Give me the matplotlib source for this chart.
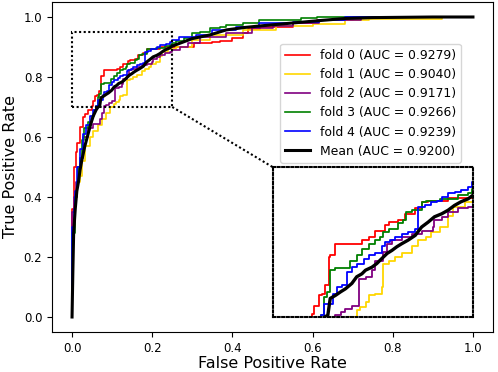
import matplotlib
matplotlib.use("Agg")
import matplotlib.pyplot as plt
from matplotlib.patches import Rectangle

# ---- data ----
fpr0 = [0, 0, 0.005, 0.01, 0.013, 0.02, 0.027, 0.032, 0.04, 0.049, 0.0516, 0.0578, 0.062, 0.066, 0.071, 0.072, 0.0785, 0.1115, 0.12, 0.128, 0.14, 0.145, 0.157, 0.165, 0.178, 0.186, 0.194, 0.219, 0.305, 0.35, 0.37, 0.40, 0.426, 0.44, 0.47, 0.55, 0.61, 0.70, 1.0]
tpr0 = [0, 0.36, 0.50, 0.55, 0.58, 0.634, 0.667, 0.677, 0.69, 0.705, 0.719, 0.736, 0.739, 0.753, 0.80, 0.803, 0.822, 0.828, 0.833, 0.844, 0.853, 0.858, 0.861, 0.872, 0.881, 0.892, 0.894, 0.899, 0.912, 0.916, 0.92, 0.93, 0.946, 0.96, 0.968, 0.98, 0.99, 1.0, 1.0]

fpr1 = [0, 0, 0.0075, 0.012, 0.02, 0.024, 0.032, 0.045, 0.053, 0.065, 0.074, 0.085, 0.095, 0.105, 0.1095, 0.116, 0.12, 0.128, 0.136, 0.138, 0.145, 0.153, 0.161, 0.174, 0.182, 0.192, 0.198, 0.209, 0.219, 0.225, 0.24, 0.26, 0.30, 0.343, 0.426, 0.509, 0.60, 0.68, 0.74, 0.923, 1.0]
tpr1 = [0, 0.30, 0.40, 0.45, 0.47, 0.52, 0.57, 0.60, 0.62, 0.64, 0.66, 0.68, 0.70, 0.711, 0.717, 0.725, 0.736, 0.739, 0.75, 0.789, 0.794, 0.80, 0.806, 0.819, 0.828, 0.833, 0.842, 0.85, 0.869, 0.883, 0.892, 0.901, 0.923, 0.94, 0.957, 0.97, 0.977, 0.99, 0.993, 1.0, 1.0]

fpr2 = [0, 0, 0.005, 0.01, 0.016, 0.02, 0.028, 0.04, 0.053, 0.07, 0.074, 0.0785, 0.085, 0.091, 0.099, 0.108, 0.116, 0.124, 0.128, 0.138, 0.143, 0.149, 0.161, 0.174, 0.186, 0.20, 0.202, 0.211, 0.219, 0.231, 0.244, 0.25, 0.27, 0.29, 0.32, 0.385, 0.45, 0.50, 0.55, 0.617, 0.72, 1.0]
tpr2 = [0, 0.35, 0.40, 0.45, 0.50, 0.53, 0.60, 0.63, 0.645, 0.66, 0.68, 0.703, 0.708, 0.714, 0.719, 0.764, 0.767, 0.778, 0.794, 0.808, 0.822, 0.828, 0.834, 0.839, 0.844, 0.85, 0.861, 0.867, 0.875, 0.881, 0.883, 0.889, 0.90, 0.915, 0.934, 0.946, 0.962, 0.97, 0.979, 0.99, 1.0, 1.0]

fpr3 = [0, 0, 0.0075, 0.012, 0.016, 0.02, 0.024, 0.03, 0.04, 0.05, 0.055, 0.06, 0.064, 0.068, 0.072, 0.0785, 0.097, 0.105, 0.1115, 0.12, 0.128, 0.134, 0.138, 0.145, 0.157, 0.163, 0.167, 0.174, 0.186, 0.192, 0.209, 0.231, 0.244, 0.249, 0.26, 0.28, 0.30, 0.32, 0.343, 0.37, 0.385, 0.426, 0.467, 0.57, 0.61, 1.0]
tpr3 = [0, 0.28, 0.40, 0.45, 0.50, 0.53, 0.59, 0.63, 0.65, 0.67, 0.69, 0.703, 0.733, 0.742, 0.778, 0.781, 0.794, 0.803, 0.814, 0.822, 0.828, 0.833, 0.842, 0.847, 0.856, 0.861, 0.875, 0.878, 0.892, 0.894, 0.897, 0.903, 0.906, 0.914, 0.92, 0.93, 0.946, 0.95, 0.962, 0.968, 0.973, 0.979, 0.99, 0.996, 1.0, 1.0]

fpr4 = [0, 0, 0.004, 0.0075, 0.012, 0.02, 0.028, 0.036, 0.045, 0.052, 0.06, 0.064, 0.076, 0.08, 0.087, 0.093, 0.099, 0.105, 0.114, 0.12, 0.128, 0.136, 0.14, 0.147, 0.153, 0.161, 0.169, 0.178, 0.182, 0.19, 0.198, 0.205, 0.211, 0.219, 0.227, 0.235, 0.244, 0.249, 0.268, 0.31, 0.35, 0.41, 0.467, 0.55, 0.617, 0.682, 1.0]
tpr4 = [0, 0.30, 0.36, 0.42, 0.50, 0.56, 0.61, 0.64, 0.67, 0.69, 0.703, 0.722, 0.739, 0.75, 0.753, 0.775, 0.783, 0.789, 0.797, 0.803, 0.806, 0.819, 0.825, 0.828, 0.833, 0.839, 0.842, 0.847, 0.883, 0.886, 0.892, 0.894, 0.90, 0.906, 0.908, 0.911, 0.917, 0.925, 0.934, 0.94, 0.957, 0.968, 0.979, 0.985, 0.99, 1.0, 1.0]

mean_fpr = [0, 0.002, 0.004, 0.008, 0.012, 0.016, 0.02, 0.024, 0.032, 0.04, 0.047, 0.053, 0.06, 0.065, 0.069, 0.072, 0.0785, 0.085, 0.091, 0.099, 0.105, 0.1115, 0.116, 0.124, 0.13, 0.136, 0.143, 0.149, 0.155, 0.161, 0.169, 0.178, 0.186, 0.194, 0.202, 0.211, 0.219, 0.227, 0.235, 0.244, 0.25, 0.30, 0.343, 0.385, 0.43, 0.467, 0.55, 0.617, 0.68, 0.75, 0.9, 1.0]
mean_tpr = [0, 0.15, 0.28, 0.36, 0.42, 0.45, 0.49, 0.52, 0.57, 0.61, 0.645, 0.67, 0.69, 0.70, 0.703, 0.731, 0.736, 0.742, 0.747, 0.756, 0.767, 0.772, 0.778, 0.783, 0.789, 0.797, 0.806, 0.811, 0.817, 0.822, 0.828, 0.836, 0.85, 0.858, 0.867, 0.872, 0.878, 0.886, 0.892, 0.897, 0.903, 0.928, 0.94, 0.957, 0.965, 0.97, 0.98, 0.988, 0.995, 0.998, 1.0, 1.0]

fold_aucs = [0.9279, 0.9040, 0.9171, 0.9266, 0.9239]
mean_auc = 0.9200
fold_colors = ["#ff0000", "#ffd700", "#800080", "#008000", "#0000ff"]

folds = [(fpr0, tpr0), (fpr1, tpr1), (fpr2, tpr2), (fpr3, tpr3), (fpr4, tpr4)]

fig = plt.figure(figsize=(4.98, 3.72), dpi=100)
ax = fig.add_axes([52 / 498, 40 / 372, 441 / 498, 330 / 372])

axins = ax.inset_axes([0.5, 0.0, 0.5, 0.5], transform=ax.transData)

for i, ((f, t), c) in enumerate(zip(folds, fold_colors)):
    ax.plot(f, t, color=c, lw=1.2, drawstyle="steps-post",
            label=f"fold {i} (AUC = {fold_aucs[i]:.4f})")
    axins.plot(f, t, color=c, lw=1.3, drawstyle="steps-post")

ax.plot(mean_fpr, mean_tpr, color="black", lw=2.2,
        label=f"Mean (AUC = {mean_auc:.4f})")
axins.plot(mean_fpr, mean_tpr, color="black", lw=2.4)

# zoom box, inset and connector
zx0, zx1, zy0, zy1 = 0.0, 0.25, 0.70, 0.95
dot = (0, (1, 1.2))
ax.add_patch(Rectangle((zx0, zy0), zx1 - zx0, zy1 - zy0, fill=False,
                       ls=dot, lw=1.5, color="black", zorder=5))
ax.plot([zx1, 0.5], [zy0, 0.5], ls=dot, lw=1.5, color="black")

axins.set_xlim(zx0, zx1)
axins.set_ylim(zy0, zy1)
axins.set_xticks([])
axins.set_yticks([])
for sp in axins.spines.values():
    sp.set_linestyle(dot)
    sp.set_linewidth(1.5)
axins.patch.set_alpha(0)

ax.set_xlim(-0.05, 1.05)
ax.set_ylim(-0.05, 1.05)
ax.set_xticks([0.0, 0.2, 0.4, 0.6, 0.8, 1.0])
ax.set_yticks([0.0, 0.2, 0.4, 0.6, 0.8, 1.0])
ax.tick_params(labelsize=8.5)
ax.set_xlabel("False Positive Rate", fontsize=11.5, labelpad=1)
ax.set_ylabel("True Positive Rate", fontsize=11.5, labelpad=4)

ax.legend(loc="upper right", bbox_to_anchor=(0.927, 0.873), borderaxespad=0,
          fontsize=8.9, framealpha=0.8)

fig.savefig("out.png", dpi=100)
